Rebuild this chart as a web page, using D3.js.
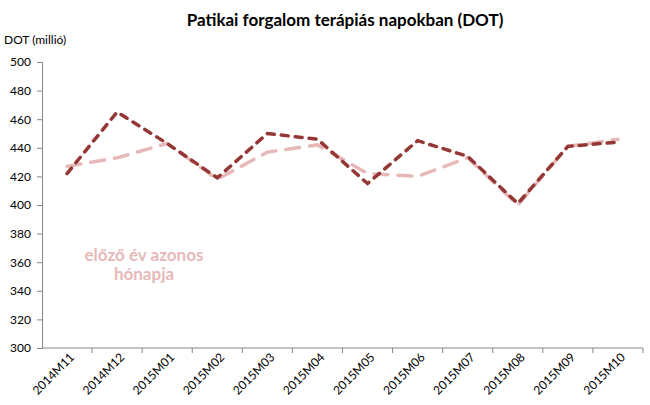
<html>
<head>
<style>
  body { margin: 0; background: #fff; font-family: Lato, "Open Sans", sans-serif; }
  .axis path, .axis line { stroke: #868686; }
  .axis text { fill: #000; font-size: 12px; font-family: Lato, "Open Sans", sans-serif; }
</style>
<script src="https://cdn.jsdelivr.net/npm/d3@7"></script>
</head>
<body>
<svg id="chart"></svg>
<script>
var width = 650, height = 405;
var margin = {top: 62, right: 7, bottom: 57, left: 42};

var months = ["2014M11", "2014M12", "2015M01", "2015M02", "2015M03", "2015M04",
              "2015M05", "2015M06", "2015M07", "2015M08", "2015M09", "2015M10"];
var current = [422, 465, 443, 419, 450, 446, 415, 445, 434, 401, 441, 444];
var previous = [427, 433, 443, 418, 437, 442, 422, 420, 433, 400, 441, 446];
var yTicks = [300, 320, 340, 360, 380, 400, 420, 440, 460, 480, 500];

var svg = d3.select("#chart").attr("width", width).attr("height", height);
var g = svg.append("g").attr("transform", "translate(" + margin.left + "," + margin.top + ")");
var w = width - margin.left - margin.right;
var h = height - margin.top - margin.bottom;

var x = d3.scaleBand().domain(months).range([0, w]);
var y = d3.scaleLinear().domain([300, 500]).range([h, 0]);

// y axis
g.append("g").attr("class", "axis")
  .call(d3.axisLeft(y).tickValues(yTicks).tickSize(5).tickPadding(6));

// x axis, ticks sit on the band edges
var xAxis = g.append("g").attr("class", "axis").attr("transform", "translate(0," + h + ")");
xAxis.append("line").attr("x1", 0).attr("x2", w).attr("stroke", "#868686");
xAxis.selectAll(".tk").data(months).enter().append("line")
  .attr("x1", function(d) { return x(d) + x.bandwidth(); })
  .attr("x2", function(d) { return x(d) + x.bandwidth(); })
  .attr("y1", 0).attr("y2", 5).attr("stroke", "#868686");
xAxis.selectAll(".lbl").data(months).enter().append("text")
  .attr("text-anchor", "end")
  .attr("font-size", 12)
  .attr("transform", function(d) {
    return "translate(" + (x(d) + x.bandwidth() / 2 + 8) + ",10)rotate(-45)";
  })
  .text(function(d) { return d; });

var line = d3.line()
  .x(function(d, i) { return x(months[i]) + x.bandwidth() / 2; })
  .y(function(d) { return y(d); });

g.append("path").datum(previous)
  .attr("d", line).attr("fill", "none")
  .attr("stroke", "#E6B9B8").attr("stroke-width", 3.5)
  .attr("stroke-linecap", "round")
  .attr("stroke-dasharray", "14,10");

g.append("path").datum(current)
  .attr("d", line).attr("fill", "none")
  .attr("stroke", "#953735").attr("stroke-width", 3.5)
  .attr("stroke-linecap", "round")
  .attr("stroke-dasharray", "7,7");

// title and labels
svg.append("text").attr("x", 345).attr("y", 26).attr("text-anchor", "middle")
  .attr("font-size", 17).attr("font-weight", "bold").text("Patikai forgalom terápiás napokban (DOT)");
svg.append("text").attr("x", 4).attr("y", 44).attr("font-size", 12).text("DOT (millió)");

var note = svg.append("text").attr("text-anchor", "middle")
  .attr("fill", "#E6B9B8").attr("font-size", 17).attr("font-weight", "bold");
note.append("tspan").attr("x", 144).attr("y", 261).text("előző év azonos");
note.append("tspan").attr("x", 144).attr("y", 280).text("hónapja");
</script>
</body>
</html>
